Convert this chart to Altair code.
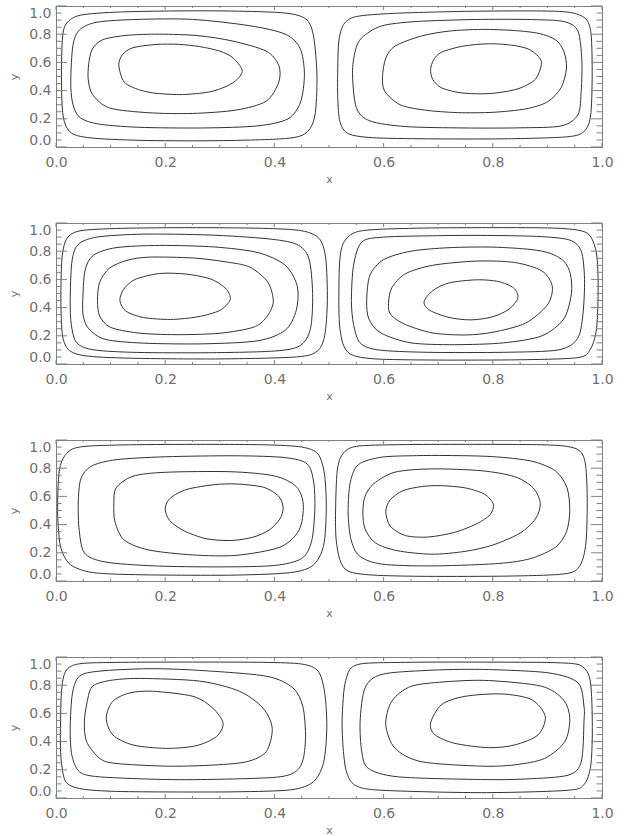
import altair as alt
import pandas as pd

# ---------------- axis values ----------------
MAJOR = [0.0, 0.2, 0.4, 0.6, 0.8, 1.0]
MINOR = [0.05, 0.1, 0.15, 0.25, 0.3, 0.35, 0.45, 0.5, 0.55,
         0.65, 0.7, 0.75, 0.85, 0.9, 0.95]

# ---------------- contour loops (x, y) ----------------
# Panel 1
P1_L1 = [(0.010,0.50),(0.012,0.78),(0.020,0.88),(0.045,0.935),(0.12,0.958),(0.26,0.966),(0.37,0.960),(0.43,0.945),(0.460,0.90),(0.472,0.78),(0.478,0.50),(0.474,0.22),(0.458,0.10),(0.42,0.060),(0.30,0.045),(0.17,0.046),(0.07,0.062),(0.028,0.10),(0.013,0.22)]
P1_L2 = [(0.027,0.47),(0.031,0.72),(0.043,0.83),(0.075,0.885),(0.15,0.905),(0.25,0.905),(0.355,0.86),(0.42,0.80),(0.447,0.70),(0.455,0.52),(0.448,0.32),(0.425,0.20),(0.37,0.15),(0.27,0.135),(0.15,0.14),(0.075,0.165),(0.042,0.215),(0.030,0.32)]
P1_L3 = [(0.060,0.59),(0.066,0.69),(0.085,0.76),(0.13,0.792),(0.19,0.80),(0.26,0.79),(0.324,0.751),(0.385,0.68),(0.408,0.58),(0.408,0.46),(0.385,0.325),(0.33,0.262),(0.25,0.238),(0.17,0.243),(0.098,0.277),(0.067,0.372),(0.059,0.48)]
P1_L4 = [(0.115,0.58),(0.122,0.656),(0.141,0.704),(0.183,0.727),(0.225,0.728),(0.263,0.712),(0.30,0.68),(0.324,0.633),(0.341,0.545),(0.332,0.48),(0.312,0.43),(0.28,0.39),(0.232,0.372),(0.185,0.38),(0.153,0.405),(0.125,0.46)]
P1_R1 = [(0.516,0.55),(0.518,0.75),(0.527,0.87),(0.55,0.925),(0.62,0.948),(0.75,0.962),(0.88,0.965),(0.94,0.955),(0.970,0.91),(0.980,0.80),(0.982,0.50),(0.979,0.22),(0.967,0.11),(0.935,0.072),(0.82,0.058),(0.68,0.058),(0.58,0.066),(0.535,0.095),(0.520,0.18),(0.516,0.35)]
P1_R2 = [(0.543,0.52),(0.548,0.68),(0.56,0.775),(0.596,0.858),(0.66,0.89),(0.779,0.905),(0.88,0.903),(0.932,0.888),(0.956,0.822),(0.963,0.62),(0.962,0.40),(0.956,0.23),(0.926,0.150),(0.85,0.136),(0.749,0.135),(0.64,0.145),(0.575,0.185),(0.550,0.28)]
P1_R3 = [(0.598,0.50),(0.604,0.63),(0.621,0.716),(0.669,0.787),(0.72,0.822),(0.779,0.834),(0.84,0.826),(0.885,0.805),(0.915,0.76),(0.930,0.68),(0.935,0.56),(0.925,0.42),(0.90,0.32),(0.86,0.27),(0.80,0.246),(0.735,0.244),(0.675,0.262),(0.630,0.30),(0.602,0.396)]
P1_R4 = [(0.686,0.55),(0.692,0.62),(0.706,0.672),(0.745,0.715),(0.792,0.732),(0.835,0.722),(0.865,0.695),(0.884,0.64),(0.889,0.585),(0.878,0.48),(0.848,0.415),(0.81,0.385),(0.779,0.377),(0.74,0.385),(0.706,0.42),(0.690,0.48)]

# Panel 2
P2_L1 = [(0.009,0.45),(0.011,0.75),(0.020,0.89),(0.045,0.945),(0.12,0.962),(0.25,0.967),(0.38,0.962),(0.45,0.945),(0.482,0.89),(0.494,0.75),(0.497,0.45),(0.492,0.20),(0.478,0.09),(0.44,0.050),(0.30,0.036),(0.15,0.040),(0.06,0.055),(0.025,0.095),(0.012,0.20)]
P2_L2 = [(0.026,0.45),(0.029,0.72),(0.040,0.845),(0.075,0.90),(0.16,0.921),(0.28,0.915),(0.385,0.889),(0.44,0.85),(0.463,0.75),(0.470,0.50),(0.466,0.25),(0.447,0.13),(0.40,0.092),(0.28,0.080),(0.15,0.082),(0.07,0.10),(0.038,0.15),(0.028,0.28)]
P2_L3 = [(0.049,0.45),(0.053,0.66),(0.068,0.77),(0.11,0.825),(0.19,0.841),(0.29,0.83),(0.37,0.79),(0.42,0.70),(0.442,0.55),(0.440,0.38),(0.42,0.24),(0.37,0.165),(0.27,0.143),(0.16,0.148),(0.09,0.175),(0.06,0.25),(0.050,0.34)]
P2_L4 = [(0.076,0.45),(0.080,0.58),(0.098,0.68),(0.13,0.735),(0.171,0.758),(0.25,0.752),(0.31,0.725),(0.355,0.687),(0.388,0.58),(0.398,0.44),(0.385,0.33),(0.361,0.26),(0.30,0.218),(0.22,0.208),(0.15,0.22),(0.10,0.26),(0.080,0.34)]
P2_L5 = [(0.117,0.45),(0.124,0.53),(0.145,0.60),(0.19,0.642),(0.24,0.637),(0.285,0.60),(0.312,0.53),(0.319,0.455),(0.30,0.38),(0.26,0.335),(0.21,0.316),(0.16,0.33),(0.128,0.375)]
P2_R1 = [(0.518,0.45),(0.520,0.75),(0.530,0.88),(0.56,0.945),(0.66,0.963),(0.78,0.967),(0.90,0.965),(0.955,0.95),(0.978,0.91),(0.990,0.78),(0.993,0.55),(0.990,0.25),(0.978,0.10),(0.955,0.045),(0.85,0.030),(0.70,0.028),(0.59,0.035),(0.545,0.06),(0.528,0.12),(0.520,0.25)]
P2_R2 = [(0.541,0.45),(0.545,0.70),(0.56,0.865),(0.60,0.90),(0.70,0.91),(0.78,0.912),(0.88,0.905),(0.94,0.88),(0.962,0.80),(0.968,0.60),(0.965,0.35),(0.955,0.18),(0.92,0.10),(0.82,0.083),(0.68,0.083),(0.59,0.10),(0.557,0.15),(0.545,0.28)]
P2_R3 = [(0.569,0.45),(0.575,0.63),(0.60,0.74),(0.65,0.80),(0.72,0.825),(0.80,0.829),(0.87,0.812),(0.905,0.785),(0.930,0.73),(0.942,0.64),(0.944,0.50),(0.93,0.32),(0.89,0.20),(0.82,0.15),(0.73,0.137),(0.65,0.15),(0.595,0.22),(0.573,0.32)]
P2_R4 = [(0.609,0.43),(0.615,0.54),(0.64,0.64),(0.69,0.70),(0.77,0.730),(0.84,0.72),(0.89,0.66),(0.909,0.55),(0.90,0.42),(0.86,0.29),(0.80,0.225),(0.75,0.206),(0.69,0.22),(0.64,0.28),(0.613,0.35)]
P2_R5 = [(0.674,0.44),(0.69,0.52),(0.72,0.575),(0.77,0.597),(0.81,0.585),(0.838,0.54),(0.846,0.47),(0.83,0.39),(0.80,0.335),(0.76,0.313),(0.72,0.33),(0.685,0.38)]

# Panel 3
P3_L1 = [(0.003,0.49),(0.006,0.78),(0.018,0.898),(0.043,0.95),(0.12,0.965),(0.25,0.969),(0.38,0.966),(0.45,0.95),(0.48,0.90),(0.492,0.75),(0.495,0.50),(0.490,0.25),(0.471,0.112),(0.43,0.06),(0.33,0.042),(0.20,0.042),(0.10,0.05),(0.055,0.069),(0.024,0.124),(0.008,0.25)]
P3_L2 = [(0.041,0.58),(0.046,0.73),(0.065,0.815),(0.11,0.86),(0.2,0.881),(0.33,0.888),(0.42,0.875),(0.46,0.83),(0.472,0.70),(0.474,0.50),(0.468,0.28),(0.45,0.16),(0.40,0.11),(0.30,0.10),(0.18,0.107),(0.09,0.135),(0.052,0.20),(0.042,0.38)]
P3_L3 = [(0.106,0.55),(0.11,0.66),(0.141,0.743),(0.2,0.771),(0.32,0.775),(0.40,0.745),(0.44,0.67),(0.453,0.54),(0.445,0.36),(0.41,0.24),(0.33,0.182),(0.25,0.185),(0.17,0.22),(0.125,0.29),(0.108,0.42)]
P3_L4 = [(0.200,0.517),(0.21,0.59),(0.24,0.65),(0.29,0.683),(0.33,0.688),(0.38,0.665),(0.408,0.60),(0.416,0.52),(0.410,0.44),(0.39,0.36),(0.36,0.31),(0.32,0.287),(0.275,0.30),(0.235,0.355),(0.208,0.43)]
P3_R1 = [(0.512,0.49),(0.515,0.78),(0.525,0.90),(0.55,0.955),(0.63,0.967),(0.75,0.969),(0.88,0.967),(0.935,0.955),(0.96,0.92),(0.970,0.82),(0.973,0.55),(0.970,0.25),(0.958,0.10),(0.93,0.05),(0.83,0.035),(0.68,0.033),(0.58,0.042),(0.535,0.07),(0.52,0.15),(0.513,0.30)]
P3_R2 = [(0.535,0.49),(0.539,0.70),(0.554,0.826),(0.596,0.878),(0.66,0.889),(0.718,0.890),(0.80,0.882),(0.871,0.85),(0.915,0.78),(0.936,0.66),(0.941,0.50),(0.935,0.35),(0.915,0.24),(0.87,0.16),(0.81,0.124),(0.688,0.107),(0.596,0.120),(0.555,0.18),(0.540,0.30)]
P3_R3 = [(0.562,0.49),(0.566,0.60),(0.582,0.69),(0.621,0.772),(0.688,0.795),(0.779,0.782),(0.84,0.74),(0.874,0.66),(0.887,0.55),(0.878,0.44),(0.850,0.34),(0.80,0.255),(0.749,0.21),(0.688,0.19),(0.625,0.215),(0.585,0.27),(0.566,0.37)]
P3_R4 = [(0.604,0.493),(0.612,0.575),(0.635,0.640),(0.670,0.670),(0.706,0.676),(0.750,0.660),(0.785,0.615),(0.801,0.545),(0.795,0.470),(0.770,0.405),(0.730,0.345),(0.682,0.312),(0.640,0.322),(0.612,0.390)]

# Panel 4
P4_L1 = [(0.008,0.42),(0.010,0.75),(0.018,0.90),(0.043,0.952),(0.12,0.962),(0.25,0.964),(0.38,0.962),(0.45,0.95),(0.48,0.90),(0.492,0.75),(0.496,0.50),(0.490,0.25),(0.471,0.114),(0.43,0.058),(0.33,0.044),(0.20,0.043),(0.10,0.048),(0.043,0.067),(0.018,0.114),(0.010,0.25)]
P4_L2 = [(0.026,0.495),(0.030,0.74),(0.043,0.864),(0.08,0.90),(0.171,0.917),(0.263,0.905),(0.385,0.864),(0.434,0.781),(0.452,0.65),(0.457,0.45),(0.453,0.28),(0.440,0.19),(0.405,0.148),(0.30,0.133),(0.202,0.131),(0.08,0.15),(0.043,0.186),(0.029,0.305)]
P4_L3 = [(0.052,0.543),(0.058,0.70),(0.067,0.793),(0.098,0.833),(0.153,0.848),(0.263,0.829),(0.336,0.757),(0.379,0.638),(0.396,0.495),(0.385,0.329),(0.349,0.257),(0.28,0.232),(0.202,0.226),(0.11,0.245),(0.08,0.281),(0.056,0.40)]
P4_L4 = [(0.092,0.567),(0.104,0.686),(0.135,0.745),(0.177,0.757),(0.251,0.721),(0.287,0.638),(0.306,0.531),(0.294,0.436),(0.257,0.371),(0.202,0.352),(0.141,0.376),(0.104,0.448)]
P4_R1 = [(0.524,0.543),(0.527,0.75),(0.532,0.852),(0.541,0.924),(0.566,0.955),(0.64,0.962),(0.718,0.964),(0.84,0.963),(0.913,0.96),(0.958,0.945),(0.975,0.88),(0.980,0.78),(0.982,0.60),(0.982,0.40),(0.979,0.22),(0.968,0.10),(0.938,0.055),(0.779,0.038),(0.596,0.055),(0.548,0.09),(0.532,0.186),(0.526,0.35)]
P4_R2 = [(0.557,0.543),(0.566,0.781),(0.596,0.876),(0.68,0.905),(0.779,0.912),(0.901,0.888),(0.956,0.817),(0.967,0.65),(0.967,0.543),(0.962,0.257),(0.938,0.162),(0.86,0.135),(0.779,0.131),(0.627,0.15),(0.572,0.21),(0.56,0.329)]
P4_R3 = [(0.604,0.519),(0.615,0.686),(0.651,0.793),(0.72,0.826),(0.792,0.833),(0.889,0.793),(0.929,0.698),(0.941,0.567),(0.932,0.40),(0.895,0.281),(0.84,0.235),(0.779,0.226),(0.67,0.257),(0.621,0.352)]
P4_R4 = [(0.686,0.531),(0.706,0.662),(0.749,0.721),(0.816,0.738),(0.871,0.698),(0.896,0.579),(0.883,0.448),(0.84,0.376),(0.792,0.357),(0.73,0.388),(0.694,0.448)]

PANELS = [
    [P1_L1, P1_L2, P1_L3, P1_L4, P1_R1, P1_R2, P1_R3, P1_R4],
    [P2_L1, P2_L2, P2_L3, P2_L4, P2_L5, P2_R1, P2_R2, P2_R3, P2_R4, P2_R5],
    [P3_L1, P3_L2, P3_L3, P3_L4, P3_R1, P3_R2, P3_R3, P3_R4],
    [P4_L1, P4_L2, P4_L3, P4_L4, P4_R1, P4_R2, P4_R3, P4_R4],
]

# ---------------- styling ----------------
W, H = 546, 141
LINE = "#333333"
AXC = "#808080"
TXT = "#707070"
FONT = "DejaVu Sans"
XMAJ, XMIN = 4, 2
YMAJ, YMIN = 11, 5.5

XS = alt.Scale(domain=[0, 1], nice=False, zero=False)
YS = alt.Scale(domain=[0, 1], nice=False, zero=False)
XAXIS = alt.Axis(values=MAJOR, format=".1f", ticks=False, grid=False,
                 domainColor=AXC, labelFont=FONT, labelFontSize=14,
                 labelColor=TXT, labelPadding=8, labelFlush=False,
                 title="x", titleFont=FONT, titleFontSize=11,
                 titleFontWeight="normal", titleColor=TXT, titlePadding=4)
YAXIS = alt.Axis(values=MAJOR, format=".1f", ticks=False, grid=False,
                 domainColor=AXC, labelFont=FONT, labelFontSize=14,
                 labelColor=TXT, labelPadding=5, labelFlush=True,
                 title="y", titleFont=FONT, titleFontSize=11,
                 titleFontWeight="normal", titleColor=TXT, titlePadding=9)


def make_panel(loops):
    rows = []
    for i, loop in enumerate(loops):
        for j, (x, y) in enumerate(loop):
            rows.append({"x": x, "y": y, "loop": i, "order": j})
    df = pd.DataFrame(rows)

    lines = alt.Chart(df).mark_line(
        interpolate="cardinal-closed", tension=0.15, color=LINE, strokeWidth=1
    ).encode(
        x=alt.X("x:Q", scale=XS, axis=XAXIS),
        y=alt.Y("y:Q", scale=YS, axis=YAXIS),
        detail="loop:N",
        order="order:Q",
    )

    layers = [lines]
    for vals, ln in ((MAJOR, XMAJ), (MINOR, XMIN)):
        d = pd.DataFrame({"x": vals})
        layers.append(alt.Chart(d).mark_rule(color=AXC, strokeWidth=1).encode(
            x=alt.X("x:Q", scale=XS, axis=XAXIS), y=alt.value(H), y2=alt.value(H - ln)))
        layers.append(alt.Chart(d).mark_rule(color=AXC, strokeWidth=1).encode(
            x=alt.X("x:Q", scale=XS, axis=XAXIS), y=alt.value(0), y2=alt.value(ln)))
    for vals, ln in ((MAJOR, YMAJ), (MINOR, YMIN)):
        d = pd.DataFrame({"y": vals})
        layers.append(alt.Chart(d).mark_rule(color=AXC, strokeWidth=1).encode(
            y=alt.Y("y:Q", scale=YS, axis=YAXIS), x=alt.value(0), x2=alt.value(ln)))
        layers.append(alt.Chart(d).mark_rule(color=AXC, strokeWidth=1).encode(
            y=alt.Y("y:Q", scale=YS, axis=YAXIS), x=alt.value(W), x2=alt.value(W - ln)))
    return alt.layer(*layers).properties(width=W, height=H)


chart = alt.vconcat(*[make_panel(p) for p in PANELS], spacing=76, bounds="flush")
chart = chart.properties(
    padding={"left": 8, "top": 5, "right": 5, "bottom": 5},
    background="white",
).configure_view(stroke=AXC, strokeWidth=1)

chart.save("out.html", embed_options={"renderer": "svg", "actions": False})
